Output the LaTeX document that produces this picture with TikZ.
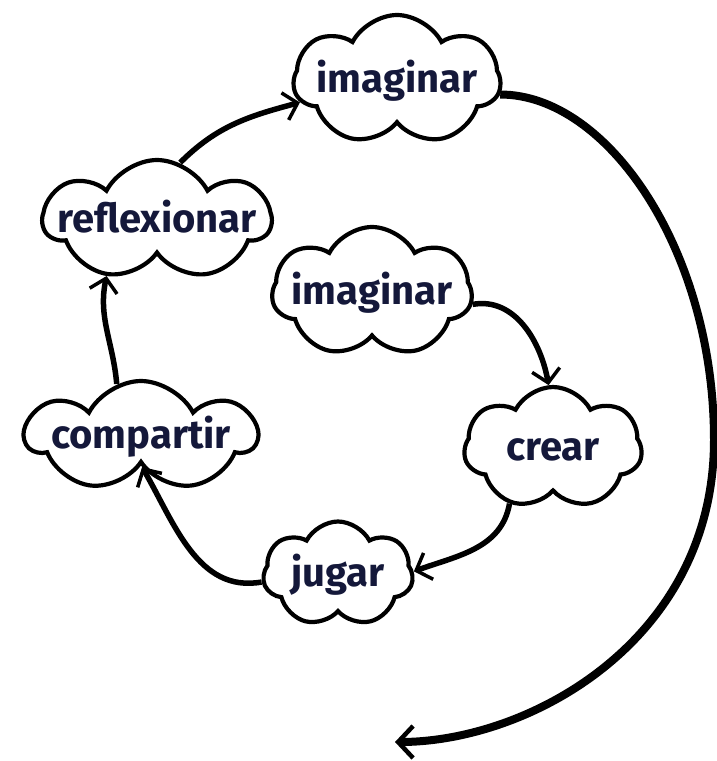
\documentclass[tikz,border=0pt]{standalone}
\usepackage{fontspec}
\setmainfont{Fira Sans}
\usetikzlibrary{shapes.symbols,arrows.meta}
\definecolor{txt}{RGB}{20,24,58}
\newcommand{\cltext}[1]{\makebox[0pt]{\smash{\raisebox{-0.3em}{#1}}}}
\tikzset{
  cl/.style={cloud, cloud puffs=7, cloud puff arc=125, cloud ignores aspect,
    draw=black, line width=4.2pt, fill=white, inner sep=0pt,
    font=\fontsize{40}{40}\selectfont\bfseries, text=txt},
  arr/.style={line width=5.5pt, -{Straight Barb[length=13pt,width=28pt,line width=3.5pt]}},
  bigarr/.style={line width=8pt, -{Straight Barb[length=15pt,width=32pt,line width=4.5pt]}}
}
\begin{document}
\begin{tikzpicture}[x=1pt,y=-1pt]
\useasboundingbox (0,0) rectangle (717,761);
\node[cl, minimum width=207pt, minimum height=130pt] (imgT) at (397,80) {\cltext{imaginar}};
\node[cl, minimum width=227pt, minimum height=120pt] (refl) at (157,220) {\cltext{reflexionar}};
\node[cl, minimum width=230pt, minimum height=110pt] (comp) at (141,436) {\cltext{compartir}};
\node[cl, minimum width=200pt, minimum height=130pt] (img) at (372,292) {\cltext{imaginar}};
\node[cl, minimum width=178pt, minimum height=122pt] (crear) at (553,448) {\cltext{crear}};
\node[cl, minimum width=150pt, minimum height=105pt] (jug) at (338,574) {\cltext{jugar}};
\coordinate (arcMid) at (714,440);
\coordinate (arcEnd) at (395,742);
\draw[arr] (refl.68) to[out=45,in=195] (imgT.193);
\draw[arr] (comp.115) to[out=95,in=258] (refl.228);
\draw[arr] (jug.186) to[out=190,in=300] (comp.272);
\draw[arr] (crear.232) to[out=260,in=20] (jug.2);
\draw[arr] (img.353) to[out=10,in=100] (crear.94);
\draw[bigarr] (imgT.352) .. controls +(107,0) and +(0,-190) .. (arcMid)
  .. controls +(0,200) and +(135,0) .. (arcEnd);
\end{tikzpicture}
\end{document}
